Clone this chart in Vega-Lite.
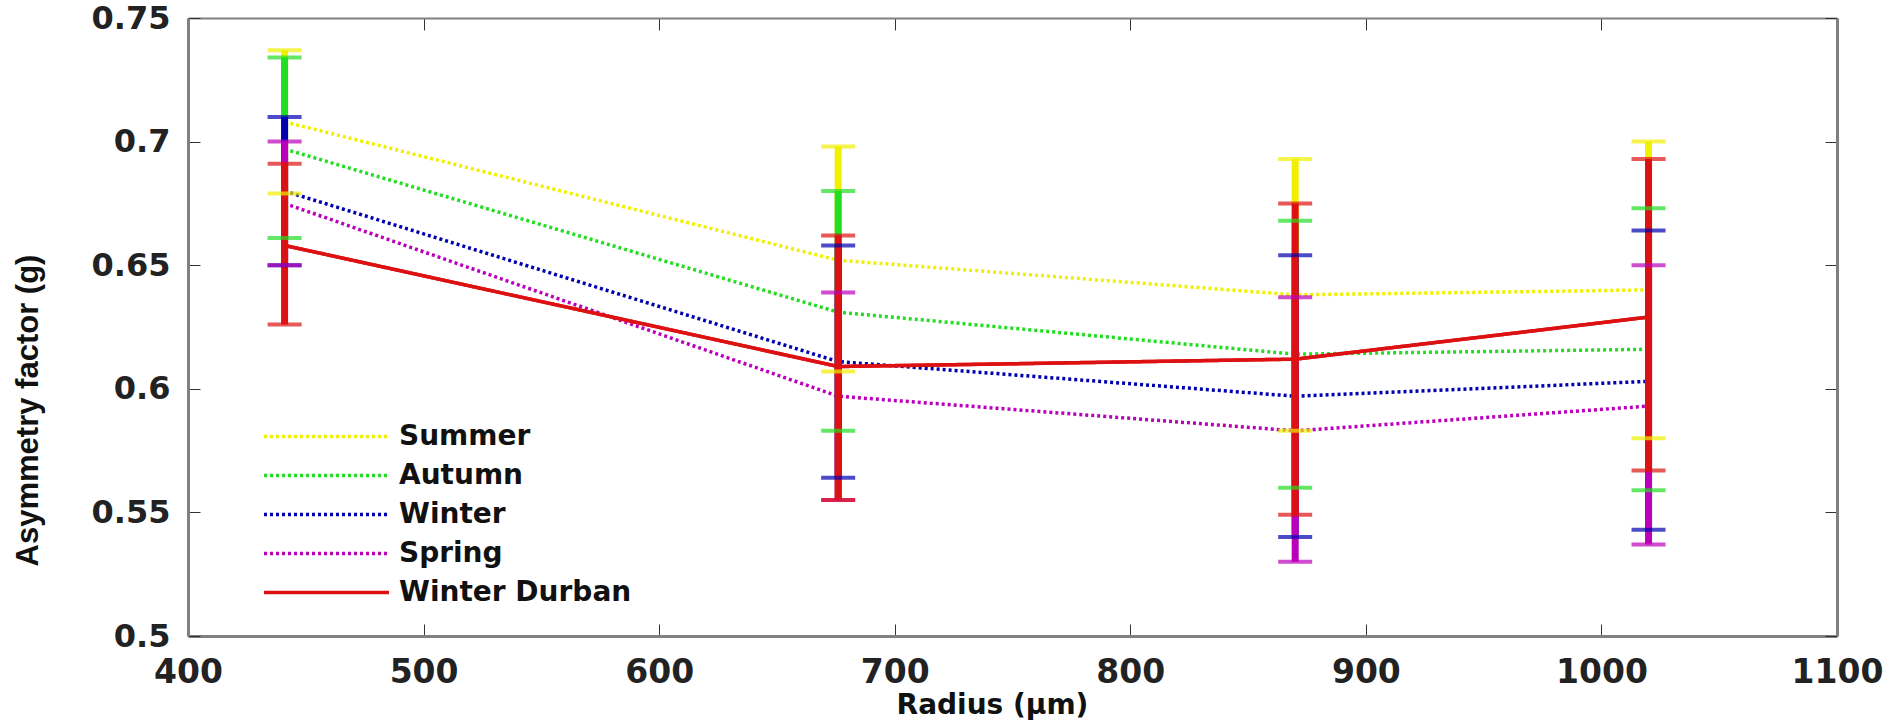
{
  "$schema": "https://vega.github.io/schema/vega-lite/v6.json",
  "width": 1649,
  "height": 618,
  "autosize": {"type": "none"},
  "padding": {"left": 188, "top": 18, "right": 64, "bottom": 85},
  "background": "white",
  "config": {
    "view": {"stroke": null},
    "axis": {"grid": false, "domainColor": "#808080", "tickColor": "#333333", "labelColor": "#222222", "titleColor": "#111111"}
  },
  "data": {
    "values": [
      {"series": "Summer", "radius": 441, "g": 0.708, "lo": 0.679, "hi": 0.737},
      {"series": "Summer", "radius": 676, "g": 0.652, "lo": 0.607, "hi": 0.698},
      {"series": "Summer", "radius": 870, "g": 0.638, "lo": 0.583, "hi": 0.693},
      {"series": "Summer", "radius": 1020, "g": 0.640, "lo": 0.580, "hi": 0.700},
      {"series": "Autumn", "radius": 441, "g": 0.697, "lo": 0.661, "hi": 0.734},
      {"series": "Autumn", "radius": 676, "g": 0.631, "lo": 0.583, "hi": 0.680},
      {"series": "Autumn", "radius": 870, "g": 0.614, "lo": 0.560, "hi": 0.668},
      {"series": "Autumn", "radius": 1020, "g": 0.616, "lo": 0.559, "hi": 0.673},
      {"series": "Winter", "radius": 441, "g": 0.680, "lo": 0.650, "hi": 0.710},
      {"series": "Winter", "radius": 676, "g": 0.611, "lo": 0.564, "hi": 0.658},
      {"series": "Winter", "radius": 870, "g": 0.597, "lo": 0.540, "hi": 0.654},
      {"series": "Winter", "radius": 1020, "g": 0.603, "lo": 0.543, "hi": 0.664},
      {"series": "Spring", "radius": 441, "g": 0.675, "lo": 0.650, "hi": 0.700},
      {"series": "Spring", "radius": 676, "g": 0.597, "lo": 0.555, "hi": 0.639},
      {"series": "Spring", "radius": 870, "g": 0.583, "lo": 0.530, "hi": 0.637},
      {"series": "Spring", "radius": 1020, "g": 0.593, "lo": 0.537, "hi": 0.650},
      {"series": "Winter Durban", "radius": 441, "g": 0.658, "lo": 0.626, "hi": 0.691},
      {"series": "Winter Durban", "radius": 676, "g": 0.609, "lo": 0.555, "hi": 0.662},
      {"series": "Winter Durban", "radius": 870, "g": 0.612, "lo": 0.549, "hi": 0.675},
      {"series": "Winter Durban", "radius": 1020, "g": 0.629, "lo": 0.567, "hi": 0.693}
    ]
  },
  "resolve": {"axis": {"x": "independent", "y": "independent"}},
  "layer": [
    {
      "mark": {"type": "line", "strokeWidth": 3.5, "strokeCap": "butt"},
      "encoding": {
        "x": {
          "field": "radius", "type": "quantitative",
          "scale": {"domain": [400, 1100], "nice": false, "zero": false},
          "axis": {
            "orient": "bottom", "values": [400, 500, 600, 700, 800, 900, 1000, 1100], "format": "d",
            "labelFont": "DejaVu Sans", "labelFontWeight": "bold", "labelFontSize": 33, "labelPadding": 32,
            "labelFlush": false, "tickSize": -12, "domainWidth": 3,
            "title": "Radius (μm)", "titleFont": "DejaVu Sans", "titleFontWeight": "bold", "titleFontSize": 28, "titlePadding": 2,
            "titleX": 804
          }
        },
        "y": {
          "field": "g", "type": "quantitative",
          "scale": {"domain": [0.5, 0.75], "nice": false, "zero": false},
          "axis": {
            "orient": "left", "values": [0.5, 0.55, 0.6, 0.65, 0.7, 0.75], "format": "~g",
            "labelFont": "DejaVu Sans", "labelFontWeight": "bold", "labelFontSize": 32, "labelPadding": 30,
            "labelFlush": false, "tickSize": -12, "domainWidth": 3,
            "title": "Asymmetry factor (g)", "titleFont": "Liberation Sans", "titleFontWeight": "bold", "titleFontSize": 31,
            "titleX": -144, "titleY": 392
          }
        },
        "color": {
          "field": "series", "type": "nominal",
          "scale": {
            "domain": ["Summer", "Autumn", "Winter", "Spring", "Winter Durban"],
            "range": ["#f0f000", "#22dd22", "#0000b0", "#bb00bb", "#dd1111"]
          },
          "legend": {
            "title": null, "orient": "none", "legendX": 124, "legendY": 404,
            "symbolType": "M-5,0H5", "symbolSize": 625, "symbolStrokeWidth": 3.5,
            "labelFont": "DejaVu Sans", "labelFontWeight": "bold", "labelFontSize": 28, "labelColor": "#111111",
            "labelOffset": 58, "labelLimit": 500, "rowPadding": 10, "padding": 0
          }
        },
        "strokeDash": {
          "field": "series", "type": "nominal",
          "scale": {
            "domain": ["Summer", "Autumn", "Winter", "Spring", "Winter Durban"],
            "range": [[3, 3], [3, 3], [3, 3], [3, 3], [1, 0]]
          },
          "legend": {
            "title": null, "orient": "none", "legendX": 124, "legendY": 404,
            "symbolType": "M-5,0H5", "symbolSize": 625, "symbolStrokeWidth": 3.5,
            "labelFont": "DejaVu Sans", "labelFontWeight": "bold", "labelFontSize": 28, "labelColor": "#111111",
            "labelOffset": 58, "labelLimit": 500, "rowPadding": 10, "padding": 0
          }
        }
      }
    },
    {
      "mark": {"type": "rule", "strokeWidth": 7},
      "encoding": {
        "x": {"field": "radius", "type": "quantitative", "axis": {"orient": "top", "labels": false, "title": null, "tickSize": -12, "domainWidth": 2, "values": [400, 500, 600, 700, 800, 900, 1000, 1100]}},
        "y": {"field": "lo", "type": "quantitative", "axis": {"orient": "right", "labels": false, "title": null, "tickSize": -12, "domainWidth": 3, "values": [0.5, 0.55, 0.6, 0.65, 0.7, 0.75]}},
        "y2": {"field": "hi"},
        "color": {"field": "series", "type": "nominal", "legend": null}
      }
    },
    {
      "mark": {"type": "tick", "orient": "horizontal", "thickness": 4, "size": 34},
      "encoding": {
        "x": {"field": "radius", "type": "quantitative", "axis": null},
        "y": {"field": "hi", "type": "quantitative", "axis": null},
        "color": {"field": "series", "type": "nominal", "legend": null}
      }
    },
    {
      "mark": {"type": "tick", "orient": "horizontal", "thickness": 4, "size": 34},
      "encoding": {
        "x": {"field": "radius", "type": "quantitative", "axis": null},
        "y": {"field": "lo", "type": "quantitative", "axis": null},
        "color": {"field": "series", "type": "nominal", "legend": null}
      }
    },
    {
      "transform": [{"filter": "datum.series === 'Winter Durban'"}],
      "mark": {"type": "line", "strokeWidth": 3.5, "color": "#dd1111"},
      "encoding": {
        "x": {"field": "radius", "type": "quantitative", "axis": null},
        "y": {"field": "g", "type": "quantitative", "axis": null}
      }
    }
  ]
}
